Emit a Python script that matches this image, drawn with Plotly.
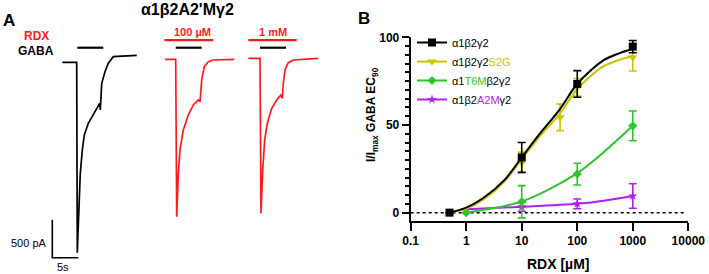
import plotly.graph_objects as go

W, H = 709, 274
FONT = "Arial, Liberation Sans, sans-serif"

# ---------------- Panel B data ----------------
conc_black = [0.5, 10, 100, 1000]
resp_black = [0, 31.5, 73.4, 94.7]
err_black = [0, 8.5, 7.6, 3.5]

conc_s2g = [10, 49, 100, 1000]
resp_s2g = [28.5, 54.4, 71.5, 88.5]
err_s2g = [6, 7.6, 5.0, 7.7]

conc_t6m = [1, 10, 100, 1000]
resp_t6m = [0, 6.2, 22, 49.5]
err_t6m = [0, 9.2, 6.2, 8.5]

conc_a2m = [10, 100, 1000]
resp_a2m = [3.3, 5.0, 9.5]
err_a2m = [2.5, 2.8, 7.0]

# fitted curves
fit_x_black = [0.5, 1, 2, 5, 10, 20, 50, 100, 300, 1000]
fit_y_black = [0, 2.9, 8.2, 19, 31.5, 44, 59.5, 73.5, 87, 93.5]
fit_x_s2g = [0.5, 1, 2, 5, 10, 20, 50, 100, 300, 1000]
fit_y_s2g = [0, 2.2, 7.2, 18, 30.5, 42.5, 57, 70.5, 83.5, 89.5]
fit_x_t6m = [1, 2, 5, 10, 28, 100, 300, 1000]
fit_y_t6m = [0, 1.5, 3.8, 6.4, 12.6, 22.5, 34.5, 49.5]
fit_x_a2m = [1, 10, 100, 300, 1000]
fit_y_a2m = [2.0, 3.3, 5.0, 6.8, 9.5]

x_tickvals = [0.1, 1, 10, 100, 1000, 10000]
x_ticktext = ["0.1", "1", "10", "100", "1000", "10000"]
y_tickvals = [0, 50, 100]
y_ticktext = ["0", "50", "100"]

# ---------------- Panel A data (time s, current pA) ----------------
ctrl_t = [0, 2.77, 2.88, 3.21, 3.46, 3.85, 4.23, 5.0, 5.96, 6.81, 7.19, 7.31, 7.58, 8.21, 8.85, 9.81, 11.42, 14.31]
ctrl_i = [0, 0, -2505, -1900, -1461, -1154, -957, -803, -693, -584, -540, -628, -276, -124, -13, 74, 83, 92]
r100_t = [0, 2.06, 2.25, 2.56, 2.88, 3.52, 4.48, 5.44, 6.40, 6.73, 7.06, 7.56, 8.33, 9.29, 13.33]
r100_i = [0, 0, -2071, -1500, -1193, -930, -733, -601, -536, -558, -272, -97, -32, -9, 0]
r1m_t = [0, 2.25, 2.44, 2.77, 3.15, 3.65, 4.5, 5.46, 6.23, 6.54, 6.73, 7.06, 7.69, 8.65, 13.46]
r1m_i = [0, 0, -2039, -1470, -1075, -855, -658, -549, -484, -526, -329, -154, -58, -22, 0]

gaba_ctrl = [2.88, 7.88]
gaba_r100 = [2.06, 7.06]
gaba_r1m = [2.25, 7.25]
rdx_r100 = [-0.13, 9.29]
rdx_r1m = [0.0, 9.31]

BLACK = "#000000"
YEL = "#c8c400"
GRN = "#2cc52c"
PUR = "#b01ef0"
RED = "#ff1a1a"

fig = go.Figure()

# legend entries
legend_items = [
    ("α1β2γ2", BLACK, "square", 8),
    (f"α1β2γ2<span style='color:{YEL}'>S2G</span>", YEL, "triangle-down", 8),
    (f"α1<span style='color:{GRN}'>T6M</span>β2γ2", GRN, "diamond", 7),
    (f"α1β2<span style='color:{PUR}'>A2M</span>γ2", PUR, "star", 7),
]
for name, col, sym, sz in legend_items:
    fig.add_trace(go.Scatter(x=[None], y=[None], mode="lines+markers", name=name,
                             line=dict(color=col, width=2),
                             marker=dict(symbol=sym, size=sz, color=col),
                             showlegend=True, xaxis="x", yaxis="y"))

series = [
    (fit_x_a2m, fit_y_a2m, conc_a2m, resp_a2m, err_a2m, PUR, "star", 7),
    (fit_x_t6m, fit_y_t6m, conc_t6m, resp_t6m, err_t6m, GRN, "diamond", 7),
    (fit_x_s2g, fit_y_s2g, conc_s2g, resp_s2g, err_s2g, YEL, "triangle-down", 8),
    (fit_x_black, fit_y_black, conc_black, resp_black, err_black, BLACK, "square", 8),
]
for fx, fy, cx, cy, ce, col, sym, sz in series:
    fig.add_trace(go.Scatter(x=fx, y=fy, mode="lines", line=dict(color=col, width=2, shape="spline", smoothing=0.8),
                             showlegend=False, hoverinfo="skip", xaxis="x", yaxis="y"))
    fig.add_trace(go.Scatter(x=cx, y=cy, mode="markers",
                             marker=dict(symbol=sym, size=sz, color=col),
                             error_y=dict(type="data", array=ce, color=col, thickness=1.6, width=4),
                             showlegend=False, cliponaxis=False, xaxis="x", yaxis="y"))

# ---------------- Panel A traces ----------------
PXS = 5.2     # px per second
PXA = 0.076   # px per pA
x2_range = [0, 360 / PXS]
y2_range = [-(H - 62.3) / PXA, 62.3 / PXA]

recs = [
    (ctrl_t, ctrl_i, 62.3 / PXS, 0.0, BLACK),
    (r100_t, r100_i, 165 / PXS, 39.5, RED),
    (r1m_t, r1m_i, 248.3 / PXS, 52.6, RED),
]
for tt, ii, t0, b0, col in recs:
    fig.add_trace(go.Scatter(x=[t0 + v for v in tt], y=[b0 + v for v in ii], mode="lines",
                             line=dict(color=col, width=1.7), showlegend=False,
                             hoverinfo="skip", xaxis="x2", yaxis="y2"))

GABA_Y = 192
RDX_Y = 293
bars = [
    (gaba_ctrl, 62.3 / PXS, GABA_Y, BLACK),
    (gaba_r100, 165 / PXS, GABA_Y, BLACK),
    (gaba_r1m, 248.3 / PXS, GABA_Y, BLACK),
    (rdx_r100, 165 / PXS, RDX_Y, RED),
    (rdx_r1m, 248.3 / PXS, RDX_Y, RED),
]
for span, t0, yy, col in bars:
    fig.add_trace(go.Scatter(x=[t0 + span[0], t0 + span[1]], y=[yy, yy], mode="lines",
                             line=dict(color=col, width=2.2), showlegend=False,
                             hoverinfo="skip", xaxis="x2", yaxis="y2"))

# scale bar 5 s / 500 pA
sb_t = 52.3 / PXS
sb_y = -(257.7 - 62.3) / PXA
fig.add_trace(go.Scatter(x=[sb_t, sb_t, sb_t + 5], y=[sb_y + 500, sb_y, sb_y], mode="lines",
                         line=dict(color=BLACK, width=1.6), showlegend=False,
                         hoverinfo="skip", xaxis="x2", yaxis="y2"))


def px(x):
    return x / W


def py(y):
    return 1 - y / H


xdom = [410.7 / W, 688.3 / W]
ydom = [py(220.7), py(37.3)]

fig.update_layout(
    width=W, height=H, autosize=False,
    margin=dict(l=0, r=0, t=0, b=0, autoexpand=False),
    paper_bgcolor="white", plot_bgcolor="white",
    font=dict(family=FONT, color="black", size=11),
    xaxis=dict(type="log", range=[-1, 4], domain=xdom, showgrid=False, zeroline=False,
               showline=True, linecolor="black", linewidth=2, ticks="outside", ticklen=8,
               tickwidth=2, tickcolor="black", tickvals=x_tickvals, ticktext=x_ticktext,
               tickfont=dict(size=12, weight="bold", family=FONT), anchor="y", automargin=False),
    yaxis=dict(range=[-4.6, 100], domain=ydom, showgrid=False, zeroline=False,
               showline=True, linecolor="black", linewidth=2, ticks="outside", ticklen=7,
               tickwidth=2, tickcolor="black", tickvals=y_tickvals, ticktext=y_ticktext,
               tickfont=dict(size=12, weight="bold", family=FONT), anchor="x", automargin=False,
               minor=dict(dtick=5, ticks="outside", ticklen=4, tickwidth=1.5, tickcolor="black")),
    xaxis2=dict(range=x2_range, domain=[0, 360 / W], visible=False, fixedrange=True, anchor="y2"),
    yaxis2=dict(range=y2_range, domain=[0, 1], visible=False, fixedrange=True, anchor="x2"),
    legend=dict(x=px(412), y=py(28), xanchor="left", yanchor="top", bgcolor="rgba(0,0,0,0)",
                font=dict(size=11, family=FONT), tracegroupgap=0, itemwidth=30),
    showlegend=True,
)

# dotted zero line
fig.add_shape(type="line", xref="x", yref="y", x0=0.1, x1=9000, y0=0, y1=0,
              line=dict(color="black", width=1.5, dash="dot"), layer="below")

anns = [
    dict(text="<b>α1β2A2'Mγ2</b>", x=188, y=10, size=16, color=BLACK),
    dict(text="<b>A</b>", x=8.5, y=21, size=17, color=BLACK),
    dict(text="<b>B</b>", x=364, y=18, size=17, color=BLACK),
    dict(text="<b>RDX</b>", x=36, y=36, size=12, color=RED),
    dict(text="<b>GABA</b>", x=36, y=51, size=12, color=BLACK),
    dict(text="<b>100 µM</b>", x=192, y=32, size=11, color=RED),
    dict(text="<b>1 mM</b>", x=273, y=32, size=11, color=RED),
    dict(text="5s", x=63, y=267, size=11, color=BLACK),
    dict(text="<b>RDX [µM]</b>", x=558, y=264, size=14, color=BLACK),
]
for a in anns:
    fig.add_annotation(text=a["text"], x=px(a["x"]), y=py(a["y"]), xref="paper", yref="paper",
                       showarrow=False, xanchor="center", yanchor="middle",
                       font=dict(size=a["size"], color=a["color"], family=FONT))
fig.add_annotation(text="500 pA", x=px(49), y=py(243), xref="paper", yref="paper", showarrow=False,
                   xanchor="right", yanchor="middle", font=dict(size=11, color=BLACK, family=FONT))
fig.add_annotation(text="<b>I/I<sub>max</sub> GABA EC<sub>90</sub></b>", x=px(372), y=py(115),
                   xref="paper", yref="paper", showarrow=False, textangle=-90,
                   xanchor="center", yanchor="middle", font=dict(size=12, color=BLACK, family=FONT))

fig.write_html("out.html", config={"displayModeBar": False},
               post_script="document.body.style.margin='0';document.body.style.overflow='hidden';")
